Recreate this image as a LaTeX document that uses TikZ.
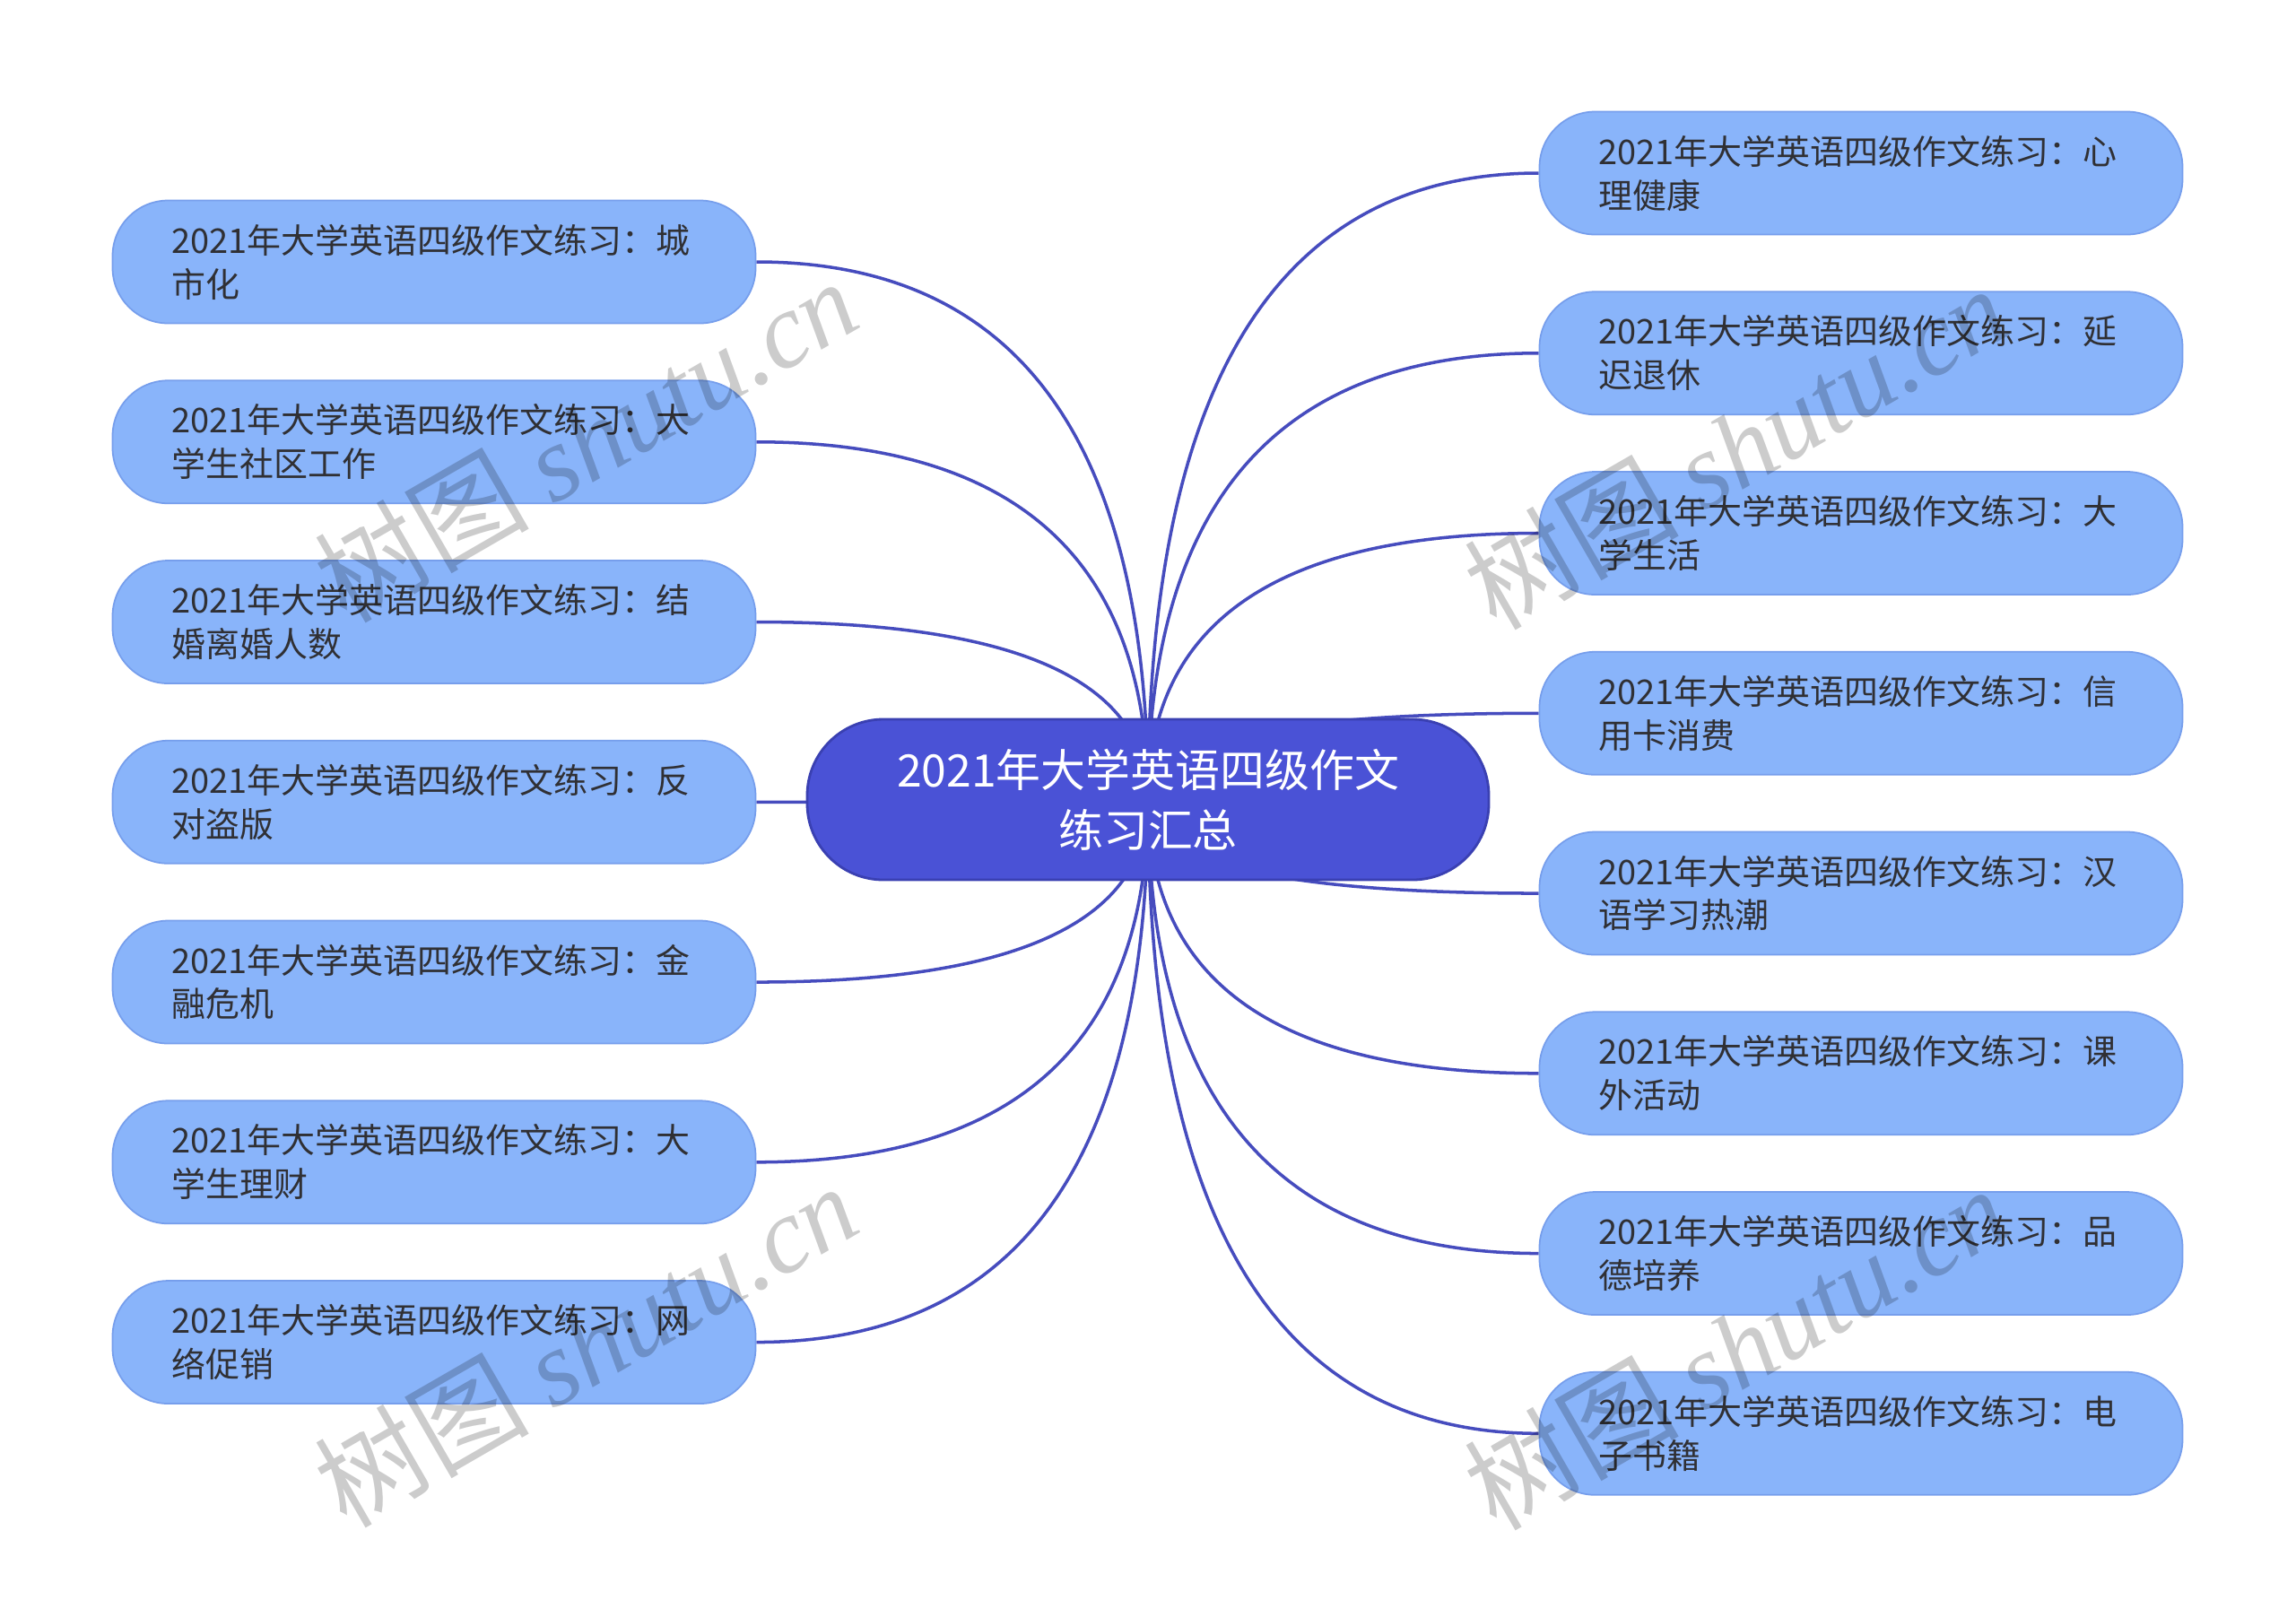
\documentclass[tikz,border=0pt]{standalone}
\usepackage{fontspec}
\setmainfont{Noto Sans CJK SC}
\newfontfamily\wmlatin{Liberation Serif}
\usepackage{xcolor}
\usetikzlibrary{positioning}
\usetikzlibrary{calc}
\usetikzlibrary{backgrounds}

\definecolor{rootblue}{RGB}{74,82,214}
\definecolor{rootline}{RGB}{58,64,178}
\definecolor{leafblue}{RGB}{137,180,250}
\definecolor{leafline}{RGB}{118,158,236}
\definecolor{edgeblue}{RGB}{70,76,190}
\definecolor{textgrey}{RGB}{48,48,52}

\begin{document}
\begin{tikzpicture}[
    leaf/.style={draw=leafline, line width=0.5pt, fill=leafblue, rectangle,
                 rounded corners=0.62cm, align=left, text width=5.85cm,
                 inner xsep=0.66cm, inner ysep=0.1cm, minimum height=1.37cm,
                 text=textgrey, font=\fontsize{10.8pt}{13.9pt}\selectfont},
    root/.style={draw=rootline, line width=0.8pt, fill=rootblue, rectangle,
                 rounded corners=0.85cm, align=center, text width=5.8cm,
                 inner xsep=0.9cm, inner ysep=0.1cm, minimum height=1.79cm,
                 text=white, font=\fontsize{14.2pt}{19pt}\selectfont},
    branch/.style={draw=edgeblue, line width=1pt,
                   to path={.. controls ($(\tikztostart)!0.667!(\tikztostart |- \tikztotarget)$)
                            and ($(\tikztotarget)!0.667!(\tikztostart |- \tikztotarget)$) .. (\tikztotarget)}},
    watermark/.style={text=black, text opacity=0.2, rotate=30,
                      font=\fontsize{34pt}{34pt}\selectfont},
    node distance=0.62cm
  ]
    \useasboundingbox (0,0) rectangle (25.6,-17.83);

    % Centre
    \node[root] (root) at (12.80,-8.915) {2021年大学英语四级作文\\练习汇总};

    % Colonne gauche
    \node[leaf] (chengshihua) at (4.84,-2.92) {2021年大学英语四级作文练习：城\\市化};
    \node[leaf, below=of chengshihua] (shequ) {2021年大学英语四级作文练习：大\\学生社区工作};
    \node[leaf, below=of shequ] (hunyin) {2021年大学英语四级作文练习：结\\婚离婚人数};
    \node[leaf, below=of hunyin] (daoban) {2021年大学英语四级作文练习：反\\对盗版};
    \node[leaf, below=of daoban] (jinrong) {2021年大学英语四级作文练习：金\\融危机};
    \node[leaf, below=of jinrong] (licai) {2021年大学英语四级作文练习：大\\学生理财};
    \node[leaf, below=of licai] (cuxiao) {2021年大学英语四级作文练习：网\\络促销};

    % Colonne droite
    \node[leaf] (xinli) at (20.75,-1.93) {2021年大学英语四级作文练习：心\\理健康};
    \node[leaf, below=of xinli] (tuixiu) {2021年大学英语四级作文练习：延\\迟退休};
    \node[leaf, below=of tuixiu] (shenghuo) {2021年大学英语四级作文练习：大\\学生活};
    \node[leaf, below=of shenghuo] (xinyongka) {2021年大学英语四级作文练习：信\\用卡消费};
    \node[leaf, below=of xinyongka] (hanyu) {2021年大学英语四级作文练习：汉\\语学习热潮};
    \node[leaf, below=of hanyu] (kewai) {2021年大学英语四级作文练习：课\\外活动};
    \node[leaf, below=of kewai] (pinde) {2021年大学英语四级作文练习：品\\德培养};
    \node[leaf, below=of pinde] (dianzi) {2021年大学英语四级作文练习：电\\子书籍};

    \begin{pgfonlayer}{background}
      \fill[white] (0,0) rectangle (25.6,-17.83);

      % Branches gauche
      \draw[branch] (root.center) to (chengshihua.east);
      \draw[branch] (root.center) to (shequ.east);
      \draw[branch] (root.center) to (hunyin.east);
      \draw[branch] (root.center) to (daoban.east);
      \draw[branch] (root.center) to (jinrong.east);
      \draw[branch] (root.center) to (licai.east);
      \draw[branch] (root.center) to (cuxiao.east);

      % Branches droite
      \draw[branch] (root.center) to (xinli.west);
      \draw[branch] (root.center) to (tuixiu.west);
      \draw[branch] (root.center) to (shenghuo.west);
      \draw[branch] (root.center) to (xinyongka.west);
      \draw[branch] (root.center) to (hanyu.west);
      \draw[branch] (root.center) to (kewai.west);
      \draw[branch] (root.center) to (pinde.west);
      \draw[branch] (root.center) to (dianzi.west);
    \end{pgfonlayer}

    % Filigranes
    \node[watermark] (wmA) at (6.53,-4.90) {树图 {\wmlatin\itshape shutu.cn}};
    \node[watermark] (wmB) at (19.35,-4.98) {树图 {\wmlatin\itshape shutu.cn}};
    \node[watermark] (wmC) at (6.53,-14.99) {树图 {\wmlatin\itshape shutu.cn}};
    \node[watermark] (wmD) at (19.35,-15.02) {树图 {\wmlatin\itshape shutu.cn}};
  \end{tikzpicture}
\end{document}
